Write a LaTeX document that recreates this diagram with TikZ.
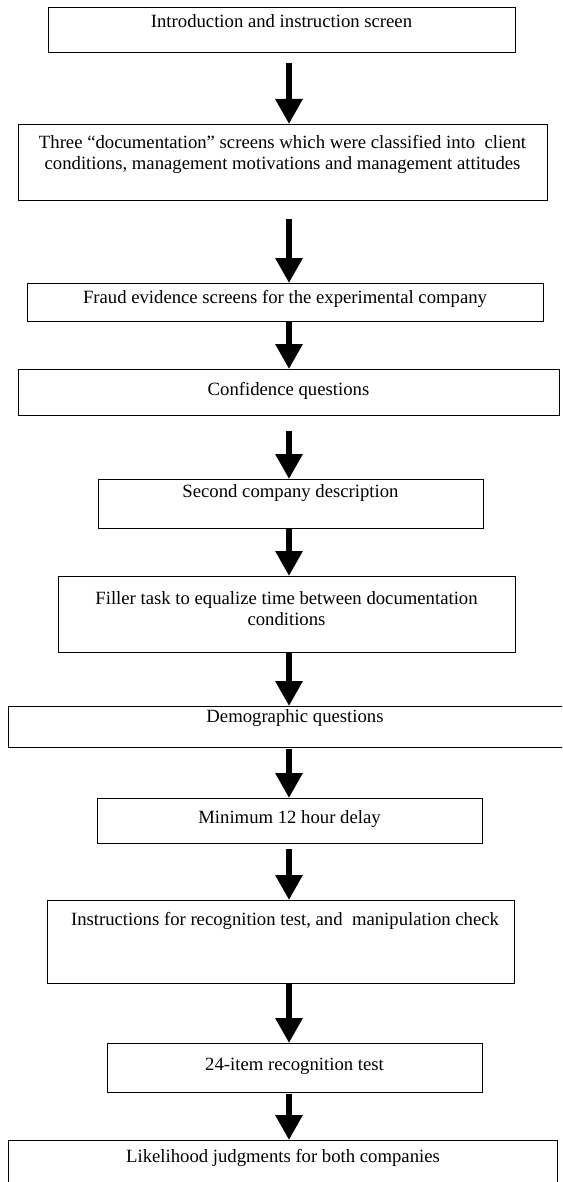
\documentclass[tikz,border=0pt]{standalone}
\usepackage{fontspec}
\setmainfont{Liberation Serif}
\usetikzlibrary{arrows.meta}
\begin{document}
\begin{tikzpicture}[x=1pt,y=1pt,
  box/.style={draw, line width=1.1pt, inner sep=0pt, anchor=north west},
  lbl/.style={inner sep=0pt, font=\fontsize{18.7}{21}\selectfont, align=center},
  flow/.style={line width=6pt, -{Triangle[width=26pt,length=25pt]}}
]
\useasboundingbox (0,0) rectangle (562,-1182);
\clip (0,0) rectangle (562,-1182);
% common vertical axis of the arrows
\coordinate (ax) at (289,0);

% process steps
\node[box, minimum width=467, minimum height=45] (b1) at (48,-7) {};
\node[lbl, anchor=base] (t1) at (281.5,-28) {Introduction and instruction screen};

\node[box, minimum width=529, minimum height=76] (b2) at (18,-124) {};
\node[lbl] (t2) at (282.5,-154) {Three “documentation” screens which were classified into~ client\\conditions, management motivations and management attitudes};

\node[box, minimum width=516, minimum height=38] (b3) at (27,-283) {};
\node[lbl, anchor=base] (t3) at (285,-303) {Fraud evidence screens for the experimental company};

\node[box, minimum width=541, minimum height=46] (b4) at (18,-369) {};
\node[lbl, anchor=base] (t4) at (288.5,-395) {Confidence questions};

\node[box, minimum width=385, minimum height=49] (b5) at (98,-479) {};
\node[lbl, anchor=base] (t5) at (290.5,-497) {Second company description};

\node[box, minimum width=457, minimum height=76] (b6) at (58,-576) {};
\node[lbl] (t6) at (286.5,-609) {Filler task to equalize time between documentation\\conditions};

\node[box, minimum width=580, minimum height=41] (b7) at (8,-706) {};
\node[lbl, anchor=base] (t7) at (295,-722) {Demographic questions};

\node[box, minimum width=385, minimum height=45] (b8) at (97,-798) {};
\node[lbl, anchor=base] (t8) at (289.5,-823) {Minimum 12 hour delay};

\node[box, minimum width=467, minimum height=83] (b9) at (47,-900) {};
\node[lbl, anchor=base] (t9) at (285,-925) {Instructions for recognition test, and~ manipulation check};

\node[box, minimum width=375, minimum height=49] (b10) at (107,-1043) {};
\node[lbl, anchor=base] (t10) at (294.5,-1070) {24-item recognition test};

\node[box, minimum width=549, minimum height=80] (b11) at (8,-1140) {};
\node[lbl, anchor=base] (t11) at (283,-1162) {Likelihood judgments for both companies};

% connecting arrows
\draw[flow, shorten <=10pt] (b1.south -| ax) -- (b2.north -| ax);
\draw[flow, shorten <=18pt] (b2.south -| ax) -- (b3.north -| ax);
\draw[flow] (b3.south -| ax) -- (b4.north -| ax);
\draw[flow, shorten <=15pt] (b4.south -| ax) -- (b5.north -| ax);
\draw[flow] (b5.south -| ax) -- (b6.north -| ax);
\draw[flow] (b6.south -| ax) -- (b7.north -| ax);
\draw[flow, shorten <=1pt] (b7.south -| ax) -- (b8.north -| ax);
\draw[flow, shorten <=5pt] (b8.south -| ax) -- (b9.north -| ax);
\draw[flow] (b9.south -| ax) -- (b10.north -| ax);
\draw[flow, shorten <=1pt] (b10.south -| ax) -- (b11.north -| ax);
\end{tikzpicture}
\end{document}
